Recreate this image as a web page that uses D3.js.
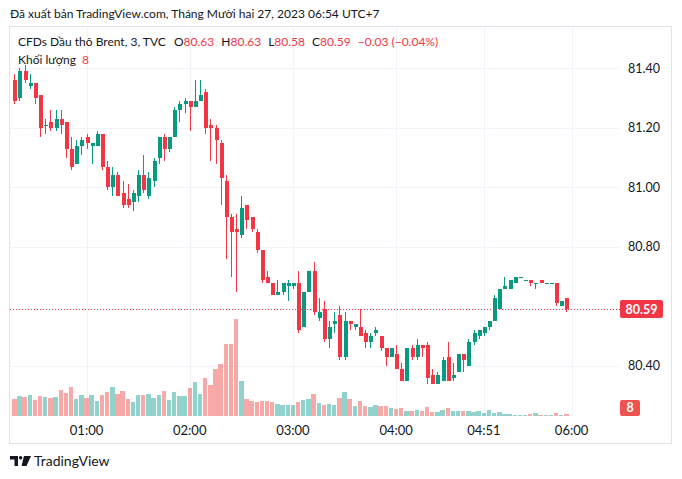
<!DOCTYPE html>
<html>
<head>
<meta charset="utf-8">
<script src="https://cdn.jsdelivr.net/npm/d3@7/dist/d3.min.js"></script>
<style>
  body { margin: 0; background: #fff; }
  svg { display: block; font-family: Lato, "Noto Sans", sans-serif; }
</style>
</head>
<body>
<svg id="chart" width="682" height="479"></svg>
<script>
// Brent CFD, 3 minute bars (TVC)
const opens = [
  81.36, 81.30, 81.39, 81.34, 81.35, 81.31, 81.21, 81.22, 81.20, 81.23,
  81.22, 81.13, 81.08, 81.14, 81.17, 81.14, 81.14, 81.18, 81.07, 81.00,
  81.04, 80.98, 80.96, 80.95, 80.97, 81.04, 80.97, 81.02, 81.10, 81.17,
  81.13, 81.17, 81.26, 81.28, 81.29, 81.27, 81.29, 81.32, 81.21, 81.20,
  81.15, 81.02, 80.90, 80.86, 80.84, 80.94, 80.90, 80.85, 80.79, 80.70,
  80.68, 80.64, 80.65, 80.67, 80.67, 80.68, 80.53, 80.65, 80.72, 80.56,
  80.59, 80.49, 80.54, 80.57, 80.43, 80.55, 80.53, 80.53, 80.51, 80.48,
  80.51, 80.50, 80.46, 80.43, 80.44, 80.39, 80.35, 80.46, 80.43, 80.47,
  80.47, 80.37, 80.34, 80.35, 80.43, 80.36, 80.38, 80.44, 80.40, 80.48,
  80.50, 80.51, 80.53, 80.55, 80.59, 80.66, 80.66, 80.68, 80.70, 80.69,
  80.69, 80.68, 80.69, 80.68, 80.68, 80.68, 80.60, 80.63
];
const highs = [
  81.38, 81.40, 81.41, 81.38, 81.35, 81.31, 81.23, 81.26, 81.26, 81.26,
  81.22, 81.17, 81.16, 81.17, 81.18, 81.15, 81.19, 81.18, 81.09, 81.07,
  81.05, 81.02, 81.01, 80.99, 81.06, 81.11, 81.05, 81.10, 81.17, 81.18,
  81.17, 81.27, 81.29, 81.30, 81.29, 81.36, 81.36, 81.33, 81.23, 81.21,
  81.16, 81.04, 80.91, 80.91, 80.97, 80.94, 80.90, 80.86, 80.79, 80.72,
  80.68, 80.69, 80.68, 80.69, 80.68, 80.72, 80.65, 80.72, 80.75, 80.63,
  80.62, 80.55, 80.58, 80.60, 80.58, 80.55, 80.54, 80.59, 80.52, 80.51,
  80.53, 80.50, 80.46, 80.46, 80.47, 80.41, 80.46, 80.47, 80.49, 80.47,
  80.48, 80.39, 80.38, 80.43, 80.48, 80.41, 80.44, 80.44, 80.49, 80.52,
  80.52, 80.53, 80.55, 80.64, 80.66, 80.70, 80.69, 80.70, 80.70, 80.69,
  80.69, 80.68, 80.69, 80.68, 80.68, 80.68, 80.62, 80.63
];
const lows = [
  81.28, 81.29, 81.35, 81.33, 81.28, 81.17, 81.18, 81.19, 81.19, 81.18,
  81.10, 81.06, 81.08, 81.11, 81.13, 81.08, 81.14, 81.06, 80.99, 80.97,
  80.97, 80.93, 80.93, 80.92, 80.95, 80.98, 80.96, 81.00, 81.08, 81.09,
  81.12, 81.17, 81.22, 81.25, 81.19, 81.27, 81.29, 81.18, 81.09, 81.08,
  80.94, 80.76, 80.70, 80.65, 80.83, 80.86, 80.85, 80.78, 80.68, 80.68,
  80.64, 80.64, 80.64, 80.62, 80.66, 80.51, 80.53, 80.65, 80.57, 80.55,
  80.48, 80.46, 80.51, 80.42, 80.42, 80.52, 80.52, 80.50, 80.46, 80.46,
  80.50, 80.45, 80.40, 80.43, 80.39, 80.35, 80.35, 80.42, 80.42, 80.43,
  80.34, 80.34, 80.34, 80.35, 80.35, 80.35, 80.38, 80.38, 80.40, 80.47,
  80.49, 80.50, 80.52, 80.55, 80.59, 80.66, 80.66, 80.68, 80.70, 80.69,
  80.67, 80.66, 80.68, 80.68, 80.68, 80.60, 80.60, 80.58
];
const closes = [
  81.29, 81.39, 81.36, 81.35, 81.30, 81.20, 81.21, 81.20, 81.23, 81.21,
  81.13, 81.07, 81.14, 81.16, 81.15, 81.15, 81.18, 81.07, 81.00, 81.04,
  80.97, 80.94, 80.94, 80.98, 81.04, 80.99, 81.03, 81.09, 81.17, 81.13,
  81.17, 81.26, 81.28, 81.29, 81.27, 81.29, 81.31, 81.20, 81.20, 81.16,
  81.03, 80.90, 80.85, 80.85, 80.93, 80.89, 80.86, 80.79, 80.69, 80.68,
  80.64, 80.65, 80.68, 80.68, 80.68, 80.52, 80.65, 80.72, 80.58, 80.58,
  80.49, 80.53, 80.55, 80.43, 80.55, 80.54, 80.54, 80.50, 80.48, 80.50,
  80.52, 80.46, 80.43, 80.46, 80.39, 80.35, 80.46, 80.43, 80.47, 80.46,
  80.36, 80.34, 80.37, 80.42, 80.35, 80.37, 80.44, 80.42, 80.48, 80.51,
  80.52, 80.53, 80.55, 80.63, 80.66, 80.67, 80.69, 80.70, 80.70, 80.69,
  80.68, 80.68, 80.68, 80.68, 80.68, 80.61, 80.62, 80.59
];
const volumes = [
  68, 80, 76, 84, 64, 80, 76, 72, 76, 104,
  92, 116, 68, 84, 72, 84, 60, 84, 96, 116,
  88, 100, 68, 56, 84, 84, 88, 72, 84, 100,
  64, 96, 80, 80, 112, 136, 88, 152, 124, 188,
  208, 288, 288, 388, 140, 68, 60, 56, 60, 60,
  56, 48, 44, 44, 44, 56, 64, 68, 88, 52,
  44, 48, 44, 71, 95, 67, 39, 59, 39, 35,
  43, 39, 39, 31, 27, 31, 19, 19, 23, 19,
  35, 15, 15, 23, 31, 19, 19, 19, 19, 15,
  19, 11, 23, 11, 15, 7, 7, 4, 4, 4,
  8, 11, 4, 4, 4, 11, 4, 8
];

// time axis labels and the bar index they sit on
const timeLabels = ["01:00", "02:00", "03:00", "04:00", "04:51", "06:00"];
const timeBars = [14, 34, 54, 74, 91, 108];

// change shown in the legend
const changeText = "\u22120.03 (\u22120.04%)";

const upColor = "#089981";
const downColor = "#f23645";
const upVol = "rgba(38,166,154,0.5)";
const downVol = "rgba(239,83,80,0.5)";
const textColor = "#131722";
const gridColor = "#f0f3fa";

const svg = d3.select("#chart");

const x = d3.scaleLinear().domain([0, closes.length - 1]).range([14.3, 566.4]);
const y = d3.scaleLinear().domain([80.40, 81.40]).range([366, 68.3]);
const yVol = d3.scaleLinear().domain([0, d3.max(volumes)]).range([416, 319]);

const bars = closes.map((c, i) => ({ i: i, o: opens[i], h: highs[i], l: lows[i], c: c, v: volumes[i], up: c >= opens[i] }));
const last = bars[bars.length - 1];
const lastY = y(last.c);

// Price ticks, the one hidden under the last price label is dropped
const priceTicks = y.ticks(5).filter(t => Math.abs(y(t) - lastY) > 10);

// grid
svg.append("g").selectAll("line").data(priceTicks).join("line")
  .attr("x1", 10).attr("x2", 620)
  .attr("y1", d => Math.round(y(d)) + 0.5).attr("y2", d => Math.round(y(d)) + 0.5)
  .attr("stroke", gridColor);

svg.append("g").selectAll("line").data(timeBars).join("line")
  .attr("x1", d => Math.round(x(d)) + 0.5).attr("x2", d => Math.round(x(d)) + 0.5)
  .attr("y1", 27).attr("y2", 417)
  .attr("stroke", gridColor);

// frame
svg.append("rect")
  .attr("x", 9.5).attr("y", 26.5).attr("width", 662).attr("height", 417)
  .attr("fill", "none").attr("stroke", "#e0e3eb");

// volume
svg.append("g").selectAll("rect").data(bars).join("rect")
  .attr("x", d => x(d.i) - 2.2)
  .attr("width", 4.4)
  .attr("y", d => yVol(d.v))
  .attr("height", d => yVol(0) - yVol(d.v))
  .attr("fill", d => d.up ? upVol : downVol)
  .attr("shape-rendering", "crispEdges");

// candles
const candles = svg.append("g").selectAll("g").data(bars).join("g")
  .attr("fill", d => d.up ? upColor : downColor)
  .attr("shape-rendering", "crispEdges");

candles.append("rect") // wick
  .attr("x", d => Math.round(x(d.i)))
  .attr("width", 1)
  .attr("y", d => y(d.h))
  .attr("height", d => Math.max(1, y(d.l) - y(d.h)));

candles.append("rect") // body
  .attr("x", d => Math.round(x(d.i)) - 1.5)
  .attr("width", 4)
  .attr("y", d => y(Math.max(d.o, d.c)))
  .attr("height", d => Math.max(1, y(Math.min(d.o, d.c)) - y(Math.max(d.o, d.c))));

// last price line
svg.append("line")
  .attr("x1", 10).attr("x2", 620)
  .attr("y1", Math.round(lastY) + 0.5).attr("y2", Math.round(lastY) + 0.5)
  .attr("stroke", downColor)
  .attr("stroke-dasharray", "1 2");

// price axis
svg.append("g").selectAll("text").data(priceTicks).join("text")
  .attr("x", 628).attr("y", d => y(d))
  .attr("dy", "0.35em")
  .attr("font-size", 12.5)
  .attr("fill", textColor)
  .text(d => d.toFixed(2));

svg.append("rect")
  .attr("x", 620).attr("y", Math.round(lastY) - 9).attr("width", 43).attr("height", 18)
  .attr("rx", 2)
  .attr("fill", downColor);
svg.append("text")
  .attr("x", 641.5).attr("y", lastY).attr("dy", "0.35em")
  .attr("text-anchor", "middle")
  .attr("font-size", 12.5).attr("font-weight", "bold")
  .attr("fill", "#fff")
  .text(last.c.toFixed(2));

// volume label, kept inside the pane
const volY = Math.min(yVol(last.v), 408);
svg.append("rect")
  .attr("x", 620).attr("y", volY - 8).attr("width", 20).attr("height", 16)
  .attr("rx", 2)
  .attr("fill", "#ef5350");
svg.append("text")
  .attr("x", 630).attr("y", volY).attr("dy", "0.35em")
  .attr("text-anchor", "middle")
  .attr("font-size", 12.5).attr("font-weight", "bold")
  .attr("fill", "#fff")
  .text(last.v);

// time axis
svg.append("g").selectAll("text").data(timeBars).join("text")
  .attr("x", d => x(d)).attr("y", 430).attr("dy", "0.35em")
  .attr("text-anchor", "middle")
  .attr("font-size", 13)
  .attr("fill", textColor)
  .text((d, i) => timeLabels[i]);

// header
svg.append("text")
  .attr("x", 10).attr("y", 14).attr("dy", "0.35em")
  .attr("font-size", 12)
  .attr("fill", textColor)
  .text("Đã xuất bản TradingView.com, Tháng Mười hai 27, 2023 06:54 UTC+7");

// legend, laid out left to right so nothing collides
const legend = svg.append("g").attr("font-size", 12);
let cursor = 18;
function legendItem(parts, minX, gap, row) {
  const t = legend.append("text")
    .attr("x", Math.max(minX, cursor)).attr("y", row).attr("dy", "0.35em");
  parts.forEach(p => t.append("tspan").attr("fill", p[1]).text(p[0]));
  cursor = Math.max(minX, cursor) + t.node().getComputedTextLength() + gap;
}

legendItem([["CFDs Dầu thô Brent, 3, TVC", textColor]], 18, 7, 42);
legendItem([["O", textColor], [last.o.toFixed(2), downColor]], 174, 7, 42);
legendItem([["H", textColor], [last.h.toFixed(2), downColor]], 217, 7, 42);
legendItem([["L", textColor], [last.l.toFixed(2), downColor]], 262, 7, 42);
legendItem([["C", textColor], [last.c.toFixed(2), downColor]], 306, 7, 42);
legendItem([[changeText, downColor]], 340, 7, 42);

cursor = 18;
legendItem([["Khối lượng", textColor]], 18, 6, 60);
legendItem([[String(last.v), downColor]], 82, 6, 60);

// TradingView logo
const logo = svg.append("g").attr("fill", textColor);
logo.append("path").attr("d", "M10,456H18V466H14.5V459.5H10Z");
logo.append("circle").attr("cx", 20.6).attr("cy", 457.8).attr("r", 1.8);
logo.append("path").attr("d", "M24,456H31L26.5,466H21.5Z");
logo.append("text")
  .attr("x", 34).attr("y", 466)
  .attr("font-size", 14)
  .text("TradingView");
</script>
</body>
</html>
